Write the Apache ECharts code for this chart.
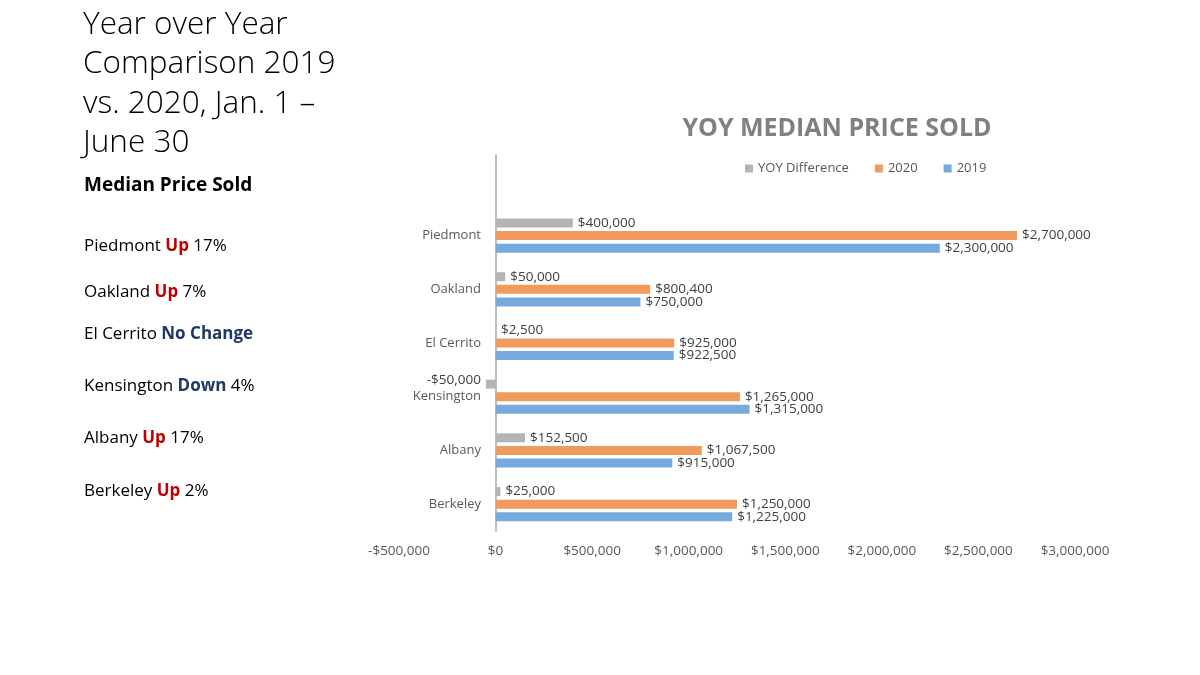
<!DOCTYPE html>
<html>
<head>
<meta charset="utf-8">
<script src="https://cdn.jsdelivr.net/npm/echarts@6/dist/echarts.min.js"></script>
<style>
  html, body { margin: 0; padding: 0; background: #fff; }
  #chart { width: 1200px; height: 675px; }
</style>
</head>
<body>
<div id="chart"></div>
<script>
// chart data
const categories = ['Piedmont', 'Oakland', 'El Cerrito', 'Kensington', 'Albany', 'Berkeley'];
const price2019 = [2300000, 750000, 922500, 1315000, 915000, 1225000];
const price2020 = [2700000, 800400, 925000, 1265000, 1067500, 1250000];
const yoyDiff = [400000, 50000, 2500, -50000, 152500, 25000];
const xMin = -500000, xMax = 3000000, xStep = 500000;

// side notes
const noteCities = ['Piedmont', 'Oakland', 'El Cerrito', 'Kensington', 'Albany', 'Berkeley'];
const noteWords = ['Up', 'Up', 'No Change', 'Down', 'Up', 'Up'];
const notePct = ['17%', '7%', '', '4%', '17%', '2%'];
const noteTops = [238, 284, 326, 378, 430, 483];

function money (v) {
  const s = '$' + Math.abs(v).toLocaleString('en-US');
  return v < 0 ? '-' + s : s;
}

const font = 'Open Sans';
const titles = [
  {
    text: 'Year over Year\nComparison 2019\nvs. 2020, Jan. 1 –\nJune 30',
    left: 83, top: 5, padding: 0,
    textStyle: { fontFamily: font, fontSize: 31.5, fontWeight: 300, color: '#000', lineHeight: 39.5 }
  },
  {
    text: 'Median Price Sold',
    left: 84, top: 176, padding: 0,
    textStyle: { fontFamily: font, fontSize: 19, fontWeight: 'bold', color: '#000' }
  },
  {
    text: 'YOY MEDIAN PRICE SOLD',
    left: 837, top: 116, textAlign: 'center', padding: 0,
    textStyle: { fontFamily: font, fontSize: 25, fontWeight: 'bold', color: '#808080' }
  }
];
noteCities.forEach((c, i) => {
  const up = noteWords[i] === 'Up';
  titles.push({
    text: c + ' {w|' + noteWords[i] + '}' + (notePct[i] ? ' ' + notePct[i] : ''),
    left: 84, top: noteTops[i], padding: 0,
    textStyle: {
      fontFamily: font, fontSize: 17, fontWeight: 'normal', color: '#000',
      rich: { w: { fontFamily: font, fontSize: 17, fontWeight: 'bold', color: up ? '#c00000' : '#1f3864' } }
    }
  });
});

const labelStyle = { show: true, position: 'right', distance: 5, color: '#404040', fontFamily: font, fontSize: 13.5,
  formatter: p => money(p.value[0]) };

function makeSeries (name, values, color) {
  return {
    name: name,
    type: 'bar',
    barWidth: 9,
    barGap: '40%',
    itemStyle: { color: color },
    label: labelStyle,
    data: categories.map((c, i) => ({
      value: [values[i], c],
      label: values[i] < 0 ? { position: 'left', offset: [0, -4] } : { position: 'right' }
    }))
  };
}

const chart = echarts.init(document.getElementById('chart'));
chart.setOption({
  animation: false,
  title: titles,
  legend: {
    data: ['YOY Difference', '2020', '2019'],
    left: 740, top: 157,
    icon: 'rect', itemWidth: 8, itemHeight: 8, itemGap: 26,
    textStyle: { fontFamily: font, fontSize: 13, color: '#595959' }
  },
  grid: { left: 399, right: 125, top: 155, bottom: 144 },
  xAxis: {
    type: 'value', min: xMin, max: xMax, interval: xStep,
    axisLine: { show: false }, axisTick: { show: false }, splitLine: { show: false },
    axisLabel: { formatter: money, color: '#595959', fontFamily: font, fontSize: 13.5, margin: 13 }
  },
  yAxis: {
    type: 'category',
    inverse: true,
    // blank top slot keeps the axis line running up to the legend, as in the original
    data: [''].concat(categories),
    axisLine: { show: true, onZero: true, lineStyle: { color: '#bfbfbf', width: 2 } },
    axisTick: { show: false },
    // labels sit beside the zero line, not at the grid edge
    axisLabel: { color: '#595959', fontFamily: font, fontSize: 13, margin: -82 }
  },
  series: [
    makeSeries('YOY Difference', yoyDiff, '#b4b4b4'),
    makeSeries('2020', price2020, '#f09a5e'),
    makeSeries('2019', price2019, '#76a9dc')
  ]
});
</script>
</body>
</html>
